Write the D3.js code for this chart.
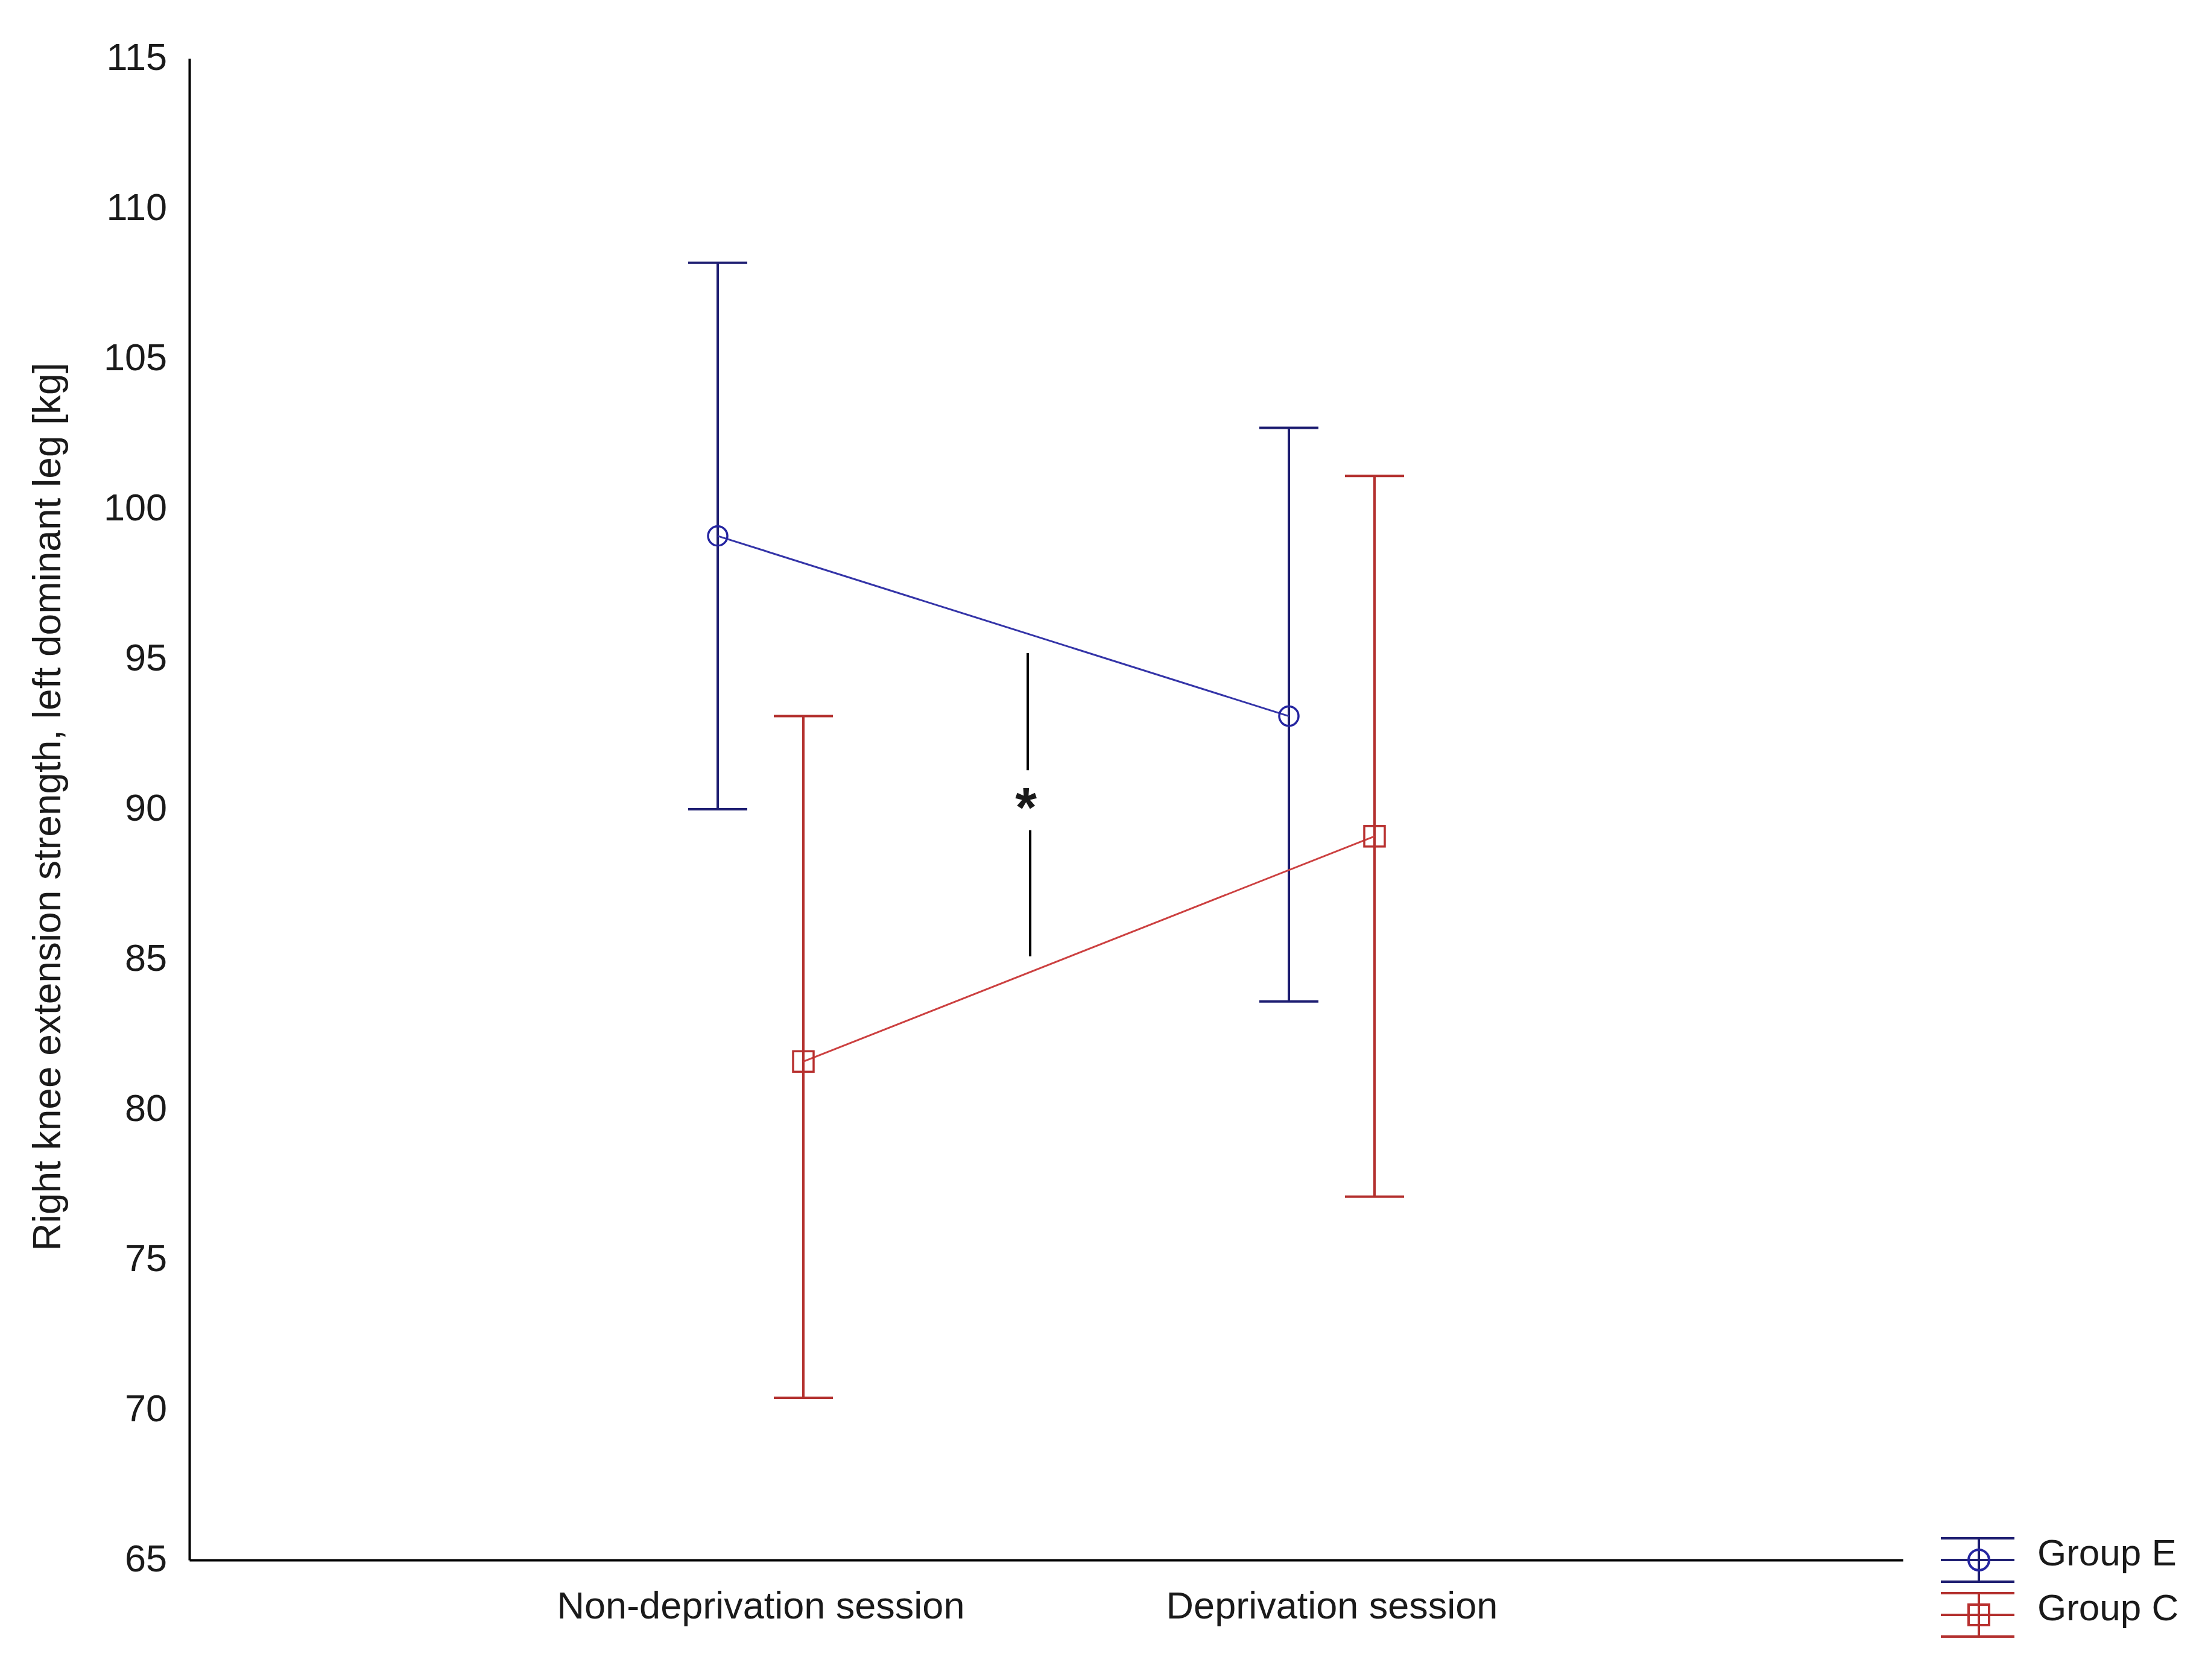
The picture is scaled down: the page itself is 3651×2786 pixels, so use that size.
<!DOCTYPE html>
<html>
<head>
<meta charset="utf-8">
<script src="https://cdn.jsdelivr.net/npm/d3@7/dist/d3.min.js"></script>
<style>
  body { margin: 0; background: #fff; }
  text { font-family: "Liberation Sans", Arial, sans-serif; fill: #1a1a1a; }
</style>
</head>
<body>
<svg id="chart"></svg>
<script>
(function() {

	// DATA
	var sessions = ['Non-deprivation session', 'Deprivation session']
	var groups = ['Group E', 'Group C']

	var meanE = [99.1, 93.1]
	var upperE = [108.2, 102.7]
	var lowerE = [90.0, 83.6]

	var meanC = [81.6, 89.1]
	var upperC = [93.1, 101.1]
	var lowerC = [70.4, 77.1]

	var yTicks = [65, 70, 75, 80, 85, 90, 95, 100, 105, 110, 115]

	// significance marker between the two groups (session index, value)
	var sigPos = [0.47]
	var sigUpper = [95.2, 91.3]
	var sigLower = [89.3, 85.1]
	var sigMark = [90.35]

	//VARS
	var W = 3651, H = 2786
	var margin = { top: 97, bottom: 199, left: 314, right: 496 }
	var width = W - margin.left - margin.right
	var height = H - margin.top - margin.bottom
	var fontSize = 63
	var groupOffset = 71
	var capHalf = 49

	var colors = {
		'Group E': { bar: '#1e1e72', line: '#3434a8', marker: '#2424a0' },
		'Group C': { bar: '#b3302e', line: '#cc4040', marker: '#b8302f' }
	}

	var series = [
		{ key: 'Group E', mean: meanE, upper: upperE, lower: lowerE, offset: -groupOffset, symbol: 'circle' },
		{ key: 'Group C', mean: meanC, upper: upperC, lower: lowerC, offset: groupOffset, symbol: 'square' }
	]

	var svg = d3.select('#chart')
		.attr('width', W)
		.attr('height', H)

	svg.append('rect')
		.attr('width', W)
		.attr('height', H)
		.attr('fill', '#fff')

	var g = svg.append('g')
		.attr('transform', 'translate(' + margin.left + ',' + margin.top + ')')

	// SCALES
	var x = d3.scalePoint()
		.domain(sessions)
		.range([0, width])
		.padding(1)

	// continuous version of the session axis, used for the annotation
	var xIndex = d3.scaleLinear()
		.domain([0, 1])
		.range([x(sessions[0]), x(sessions[1])])

	var y = d3.scaleLinear()
		.domain([65, 115])
		.range([height, 0])

	// AXES
	var axisY = d3.axisLeft(y)
		.tickValues(yTicks)
		.tickSize(0)
		.tickPadding(37)

	var gy = g.append('g')
		.attr('class', 'axis axis--y')
		.call(axisY)

	gy.select('.domain')
		.attr('stroke', '#000')
		.attr('stroke-width', 4)

	gy.selectAll('text')
		.style('font-size', fontSize + 'px')
		.attr('dy', '0.3em')

	var axisX = d3.axisBottom(x)
		.tickSize(0)
		.tickPadding(52)

	var gx = g.append('g')
		.attr('class', 'axis axis--x')
		.attr('transform', 'translate(0,' + height + ')')
		.call(axisX)

	gx.select('.domain')
		.attr('stroke', '#000')
		.attr('stroke-width', 4)

	gx.selectAll('text')
		.style('font-size', fontSize + 'px')

	svg.append('text')
		.attr('class', 'label--y')
		.attr('text-anchor', 'middle')
		.attr('transform', 'translate(' + 100 + ',' + (margin.top + height / 2 - 4) + ')rotate(-90)')
		.style('font-size', '64px')
		.text('Right knee extension strength, left dominant leg [kg]')

	// ERROR BARS + LINES
	var line = d3.line()
		.x(function(d) { return d.x })
		.y(function(d) { return d.y })

	series.forEach(function(s) {
		var c = colors[s.key]
		var pts = sessions.map(function(sess, i) {
			return {
				x: x(sess) + s.offset,
				y: y(s.mean[i]),
				hi: y(s.upper[i]),
				lo: y(s.lower[i])
			}
		})

		var layer = g.append('g').attr('class', 'series')

		layer.selectAll('.whisker')
			.data(pts)
			.enter()
			.append('line')
			.attr('class', 'whisker')
			.attr('x1', function(d) { return d.x })
			.attr('x2', function(d) { return d.x })
			.attr('y1', function(d) { return d.hi })
			.attr('y2', function(d) { return d.lo })
			.attr('stroke', c.bar)
			.attr('stroke-width', 4)

		layer.selectAll('.cap-hi')
			.data(pts)
			.enter()
			.append('line')
			.attr('x1', function(d) { return d.x - capHalf })
			.attr('x2', function(d) { return d.x + capHalf })
			.attr('y1', function(d) { return d.hi })
			.attr('y2', function(d) { return d.hi })
			.attr('stroke', c.bar)
			.attr('stroke-width', 4)

		layer.selectAll('.cap-lo')
			.data(pts)
			.enter()
			.append('line')
			.attr('x1', function(d) { return d.x - capHalf })
			.attr('x2', function(d) { return d.x + capHalf })
			.attr('y1', function(d) { return d.lo })
			.attr('y2', function(d) { return d.lo })
			.attr('stroke', c.bar)
			.attr('stroke-width', 4)

		layer.append('path')
			.datum(pts)
			.attr('d', line)
			.attr('fill', 'none')
			.attr('stroke', c.line)
			.attr('stroke-width', 3)

		if (s.symbol === 'circle') {
			layer.selectAll('.marker')
				.data(pts)
				.enter()
				.append('circle')
				.attr('cx', function(d) { return d.x })
				.attr('cy', function(d) { return d.y })
				.attr('r', 16)
				.attr('fill', 'none')
				.attr('stroke', c.marker)
				.attr('stroke-width', 3.5)
		} else {
			layer.selectAll('.marker')
				.data(pts)
				.enter()
				.append('rect')
				.attr('x', function(d) { return d.x - 17 })
				.attr('y', function(d) { return d.y - 17 })
				.attr('width', 34)
				.attr('height', 34)
				.attr('fill', 'none')
				.attr('stroke', c.marker)
				.attr('stroke-width', 3.5)
		}
	})

	// SIGNIFICANCE
	var sx = xIndex(sigPos[0])
	g.append('line')
		.attr('x1', sx - 2).attr('x2', sx - 2)
		.attr('y1', y(sigUpper[0])).attr('y2', y(sigUpper[1]))
		.attr('stroke', '#000')
		.attr('stroke-width', 4)

	g.append('line')
		.attr('x1', sx + 2).attr('x2', sx + 2)
		.attr('y1', y(sigLower[0])).attr('y2', y(sigLower[1]))
		.attr('stroke', '#000')
		.attr('stroke-width', 4)

	g.append('text')
		.attr('x', sx - 5)
		.attr('y', y(sigMark[0]) + 46)
		.attr('text-anchor', 'middle')
		.style('font-size', '92px')
		.style('font-weight', 'bold')
		.text('*')

	// LEGEND
	var legend = svg.append('g')
		.attr('class', 'legend')
		.attr('transform', 'translate(3218,2551)')

	var item = legend.selectAll('.legend-item')
		.data(groups)
		.enter()
		.append('g')
		.attr('class', 'legend-item')
		.attr('transform', function(d, i) { return 'translate(0,' + (i * 91) + ')' })

	item.each(function(d, i) {
		var el = d3.select(this)
		var c = colors[d]
		var top = 0, mid = 36, bot = 72
		;[top, mid, bot].forEach(function(yy) {
			el.append('line')
				.attr('x1', 0).attr('x2', 122)
				.attr('y1', yy).attr('y2', yy)
				.attr('stroke', c.bar)
				.attr('stroke-width', 4)
		})
		el.append('line')
			.attr('x1', 63).attr('x2', 63)
			.attr('y1', top).attr('y2', bot)
			.attr('stroke', c.bar)
			.attr('stroke-width', 4)
		if (i === 0) {
			el.append('circle')
				.attr('cx', 63).attr('cy', mid).attr('r', 17)
				.attr('fill', 'none')
				.attr('stroke', c.marker)
				.attr('stroke-width', 4)
		} else {
			el.append('rect')
				.attr('x', 46).attr('y', mid - 17)
				.attr('width', 34).attr('height', 34)
				.attr('fill', 'none')
				.attr('stroke', c.marker)
				.attr('stroke-width', 4)
		}
		el.append('text')
			.attr('x', 160)
			.attr('y', mid + 9)
			.style('font-size', '62px')
			.text(d)
	})

})()
</script>
</body>
</html>
